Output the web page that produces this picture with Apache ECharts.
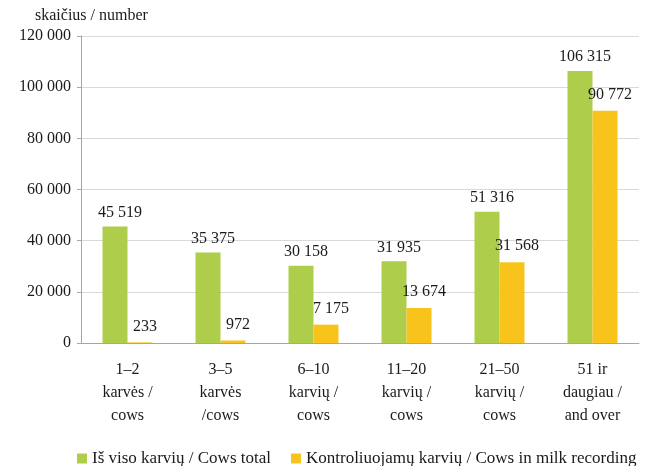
<!DOCTYPE html>
<html>
<head>
<meta charset="utf-8">
<script src="https://cdn.jsdelivr.net/npm/echarts@6/dist/echarts.min.js"></script>
<style>
  html, body { margin: 0; padding: 0; background: #fff; }
  #main { width: 648px; height: 466px; }
</style>
</head>
<body>
<div id="main"></div>
<script>
var categories = ['1–2\nkarvės /\ncows', '3–5\nkarvės\n/cows', '6–10\nkarvių /\ncows',
                  '11–20\nkarvių /\ncows', '21–50\nkarvių /\ncows', '51 ir\ndaugiau /\nand over'];
var totalCows = [45519, 35375, 30158, 31935, 51316, 106315];
var recordedCows = [233, 972, 7175, 13674, 31568, 90772];
var seriesNames = ['Iš viso karvių / Cows total', 'Kontroliuojamų karvių / Cows in milk recording'];

var serif = "'Liberation Serif', 'Times New Roman', serif";

function spaced(v) {
    return String(v).replace(/\B(?=(\d{3})+(?!\d))/g, ' ');
}

var myChart = echarts.init(document.getElementById('main'));
var option = {
    animation: false,
    textStyle: { fontFamily: serif },
    grid: {
        left: 81,
        right: 9,
        top: 36,
        bottom: 123
    },
    legend: {
        left: 72,
        top: 445,
        itemWidth: 10,
        itemHeight: 10,
        itemGap: 20,
        icon: 'rect',
        textStyle: { fontFamily: serif, fontSize: 17, color: '#1a1a1a' },
        data: seriesNames
    },
    xAxis: {
        type: 'category',
        data: categories,
        axisLine: { lineStyle: { color: '#a6a6a6' } },
        axisTick: { length: 5, lineStyle: { color: '#a6a6a6' } },
        axisLabel: {
            fontFamily: serif,
            fontSize: 16,
            color: '#1a1a1a',
            lineHeight: 23,
            margin: 15,
            interval: 0
        }
    },
    yAxis: {
        type: 'value',
        min: 0,
        max: 120000,
        interval: 20000,
        name: 'skaičius / number',
        nameLocation: 'end',
        nameGap: 12,
        nameTextStyle: { fontFamily: serif, fontSize: 16, color: '#1a1a1a', align: 'left', padding: [0, 0, 0, -46] },
        axisLine: { show: true, lineStyle: { color: '#a6a6a6' } },
        axisTick: { show: true, length: 4, lineStyle: { color: '#a6a6a6' } },
        splitLine: { lineStyle: { color: '#d9d9d9', width: 1 } },
        axisLabel: {
            fontFamily: serif,
            fontSize: 16,
            color: '#1a1a1a',
            margin: 10,
            formatter: function (v) { return spaced(v); }
        }
    },
    series: [
        {
            name: seriesNames[0],
            type: 'bar',
            data: totalCows,
            barWidth: 25,
            barGap: '0%',
            itemStyle: { color: '#adcd4b' },
            label: {
                show: true,
                position: 'top',
                distance: 6,
                offset: [5, 0],
                fontFamily: serif,
                fontSize: 16,
                color: '#1a1a1a',
                formatter: function (p) { return spaced(p.value); }
            }
        },
        {
            name: seriesNames[1],
            type: 'bar',
            data: recordedCows,
            barWidth: 25,
            barGap: '0%',
            itemStyle: { color: '#f8c41c' },
            label: {
                show: true,
                position: 'top',
                distance: 8,
                offset: [5, 0],
                fontFamily: serif,
                fontSize: 16,
                color: '#1a1a1a',
                formatter: function (p) { return spaced(p.value); }
            }
        }
    ]
};
myChart.setOption(option);
window.onresize = myChart.resize;
</script>
</body>
</html>
